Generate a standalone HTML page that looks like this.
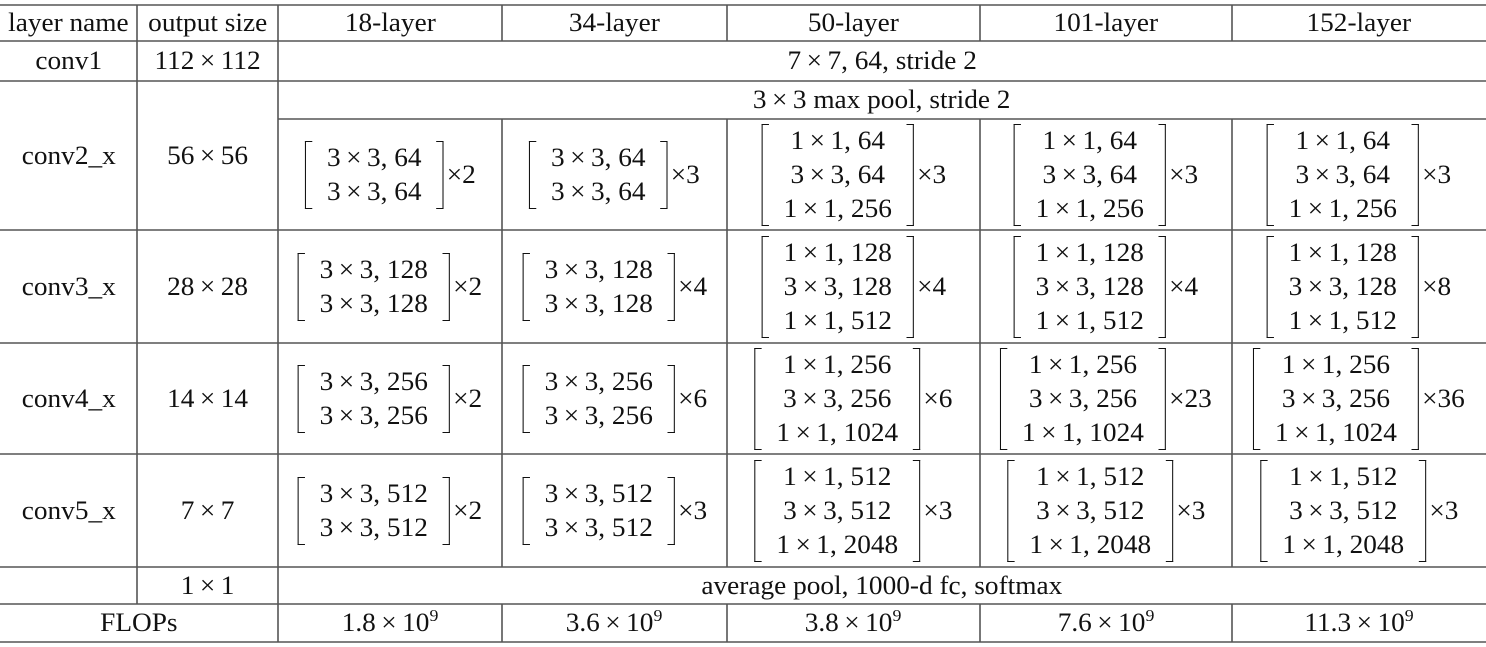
<!DOCTYPE html>
<html><head><meta charset="utf-8"><style>
body{margin:0;background:#fff;}
#c{position:relative;width:1486px;height:647px;overflow:hidden;font-family:"Liberation Serif",serif;font-size:26px;color:#111;}
.cell{position:absolute;display:flex;align-items:center;justify-content:center;}
.in{transform:scaleX(1.05);display:flex;align-items:center;white-space:nowrap;}
.br{display:flex;align-items:center;}
.bl{width:6px;border:1.5px solid #111;border-right:none;align-self:stretch;}
.brr{width:6px;border:1.5px solid #111;border-left:none;align-self:stretch;}
.tx{text-align:center;line-height:34px;padding:0px 14px;}
.x{margin-left:3px;}
sup{font-size:17px;vertical-align:10px;line-height:0;}
svg{position:absolute;left:0;top:0;}
</style></head><body><div id="c">
<svg width="1486" height="647">
<g stroke="#555" stroke-width="1.6">
<line x1="0" y1="5" x2="1486" y2="5"/>
<line x1="0" y1="41" x2="1486" y2="41"/>
<line x1="0" y1="81" x2="1486" y2="81"/>
<line x1="278" y1="119" x2="1486" y2="119"/>
<line x1="0" y1="230" x2="1486" y2="230"/>
<line x1="0" y1="343" x2="1486" y2="343"/>
<line x1="0" y1="454" x2="1486" y2="454"/>
<line x1="0" y1="567" x2="1486" y2="567"/>
<line x1="0" y1="604" x2="1486" y2="604"/>
<line x1="0" y1="642" x2="1486" y2="642"/>
<line x1="137" y1="5" x2="137" y2="604"/>
<line x1="278" y1="5" x2="278" y2="642"/>
<line x1="502" y1="5" x2="502" y2="41"/><line x1="502" y1="119" x2="502" y2="567"/><line x1="502" y1="604" x2="502" y2="642"/>
<line x1="727" y1="5" x2="727" y2="41"/><line x1="727" y1="119" x2="727" y2="567"/><line x1="727" y1="604" x2="727" y2="642"/>
<line x1="980" y1="5" x2="980" y2="41"/><line x1="980" y1="119" x2="980" y2="567"/><line x1="980" y1="604" x2="980" y2="642"/>
<line x1="1232" y1="5" x2="1232" y2="41"/><line x1="1232" y1="119" x2="1232" y2="567"/><line x1="1232" y1="604" x2="1232" y2="642"/>
</g></svg>

<div class="cell" style="left:0;top:5px;width:137px;height:36px"><div class="in">layer name</div></div>
<div class="cell" style="left:137px;top:5px;width:141px;height:36px"><div class="in">output size</div></div>
<div class="cell" style="left:278px;top:5px;width:224px;height:36px"><div class="in">18-layer</div></div>
<div class="cell" style="left:502px;top:5px;width:225px;height:36px"><div class="in">34-layer</div></div>
<div class="cell" style="left:727px;top:5px;width:253px;height:36px"><div class="in">50-layer</div></div>
<div class="cell" style="left:980px;top:5px;width:252px;height:36px"><div class="in">101-layer</div></div>
<div class="cell" style="left:1232px;top:5px;width:254px;height:36px"><div class="in">152-layer</div></div>

<div class="cell" style="left:0;top:41px;width:137px;height:40px"><div class="in">conv1</div></div>
<div class="cell" style="left:137px;top:41px;width:141px;height:40px"><div class="in">112&#8201;×&#8201;112</div></div>
<div class="cell" style="left:278px;top:41px;width:1208px;height:40px"><div class="in">7&#8201;×&#8201;7, 64, stride 2</div></div>

<div class="cell" style="left:0;top:81px;width:137px;height:149px"><div class="in">conv2_x</div></div>
<div class="cell" style="left:137px;top:81px;width:141px;height:149px"><div class="in">56&#8201;×&#8201;56</div></div>
<div class="cell" style="left:278px;top:81px;width:1208px;height:38px"><div class="in">3&#8201;×&#8201;3 max pool, stride 2</div></div>

<div class="cell" style="left:278px;top:119px;width:224px;height:111px"><div class="in"><div class="br"><div class="bl"></div><div class="tx">3&#8201;×&#8201;3, 64<br>3&#8201;×&#8201;3, 64</div><div class="brr"></div></div><span class="x">×2</span></div></div>
<div class="cell" style="left:502px;top:119px;width:225px;height:111px"><div class="in"><div class="br"><div class="bl"></div><div class="tx">3&#8201;×&#8201;3, 64<br>3&#8201;×&#8201;3, 64</div><div class="brr"></div></div><span class="x">×3</span></div></div>
<div class="cell" style="left:727px;top:119px;width:253px;height:111px"><div class="in"><div class="br"><div class="bl"></div><div class="tx">1&#8201;×&#8201;1, 64<br>3&#8201;×&#8201;3, 64<br>1&#8201;×&#8201;1, 256</div><div class="brr"></div></div><span class="x">×3</span></div></div>
<div class="cell" style="left:980px;top:119px;width:252px;height:111px"><div class="in"><div class="br"><div class="bl"></div><div class="tx">1&#8201;×&#8201;1, 64<br>3&#8201;×&#8201;3, 64<br>1&#8201;×&#8201;1, 256</div><div class="brr"></div></div><span class="x">×3</span></div></div>
<div class="cell" style="left:1232px;top:119px;width:254px;height:111px"><div class="in"><div class="br"><div class="bl"></div><div class="tx">1&#8201;×&#8201;1, 64<br>3&#8201;×&#8201;3, 64<br>1&#8201;×&#8201;1, 256</div><div class="brr"></div></div><span class="x">×3</span></div></div>

<div class="cell" style="left:0;top:230px;width:137px;height:113px"><div class="in">conv3_x</div></div>
<div class="cell" style="left:137px;top:230px;width:141px;height:113px"><div class="in">28&#8201;×&#8201;28</div></div>
<div class="cell" style="left:278px;top:230px;width:224px;height:113px"><div class="in"><div class="br"><div class="bl"></div><div class="tx">3&#8201;×&#8201;3, 128<br>3&#8201;×&#8201;3, 128</div><div class="brr"></div></div><span class="x">×2</span></div></div>
<div class="cell" style="left:502px;top:230px;width:225px;height:113px"><div class="in"><div class="br"><div class="bl"></div><div class="tx">3&#8201;×&#8201;3, 128<br>3&#8201;×&#8201;3, 128</div><div class="brr"></div></div><span class="x">×4</span></div></div>
<div class="cell" style="left:727px;top:230px;width:253px;height:113px"><div class="in"><div class="br"><div class="bl"></div><div class="tx">1&#8201;×&#8201;1, 128<br>3&#8201;×&#8201;3, 128<br>1&#8201;×&#8201;1, 512</div><div class="brr"></div></div><span class="x">×4</span></div></div>
<div class="cell" style="left:980px;top:230px;width:252px;height:113px"><div class="in"><div class="br"><div class="bl"></div><div class="tx">1&#8201;×&#8201;1, 128<br>3&#8201;×&#8201;3, 128<br>1&#8201;×&#8201;1, 512</div><div class="brr"></div></div><span class="x">×4</span></div></div>
<div class="cell" style="left:1232px;top:230px;width:254px;height:113px"><div class="in"><div class="br"><div class="bl"></div><div class="tx">1&#8201;×&#8201;1, 128<br>3&#8201;×&#8201;3, 128<br>1&#8201;×&#8201;1, 512</div><div class="brr"></div></div><span class="x">×8</span></div></div>

<div class="cell" style="left:0;top:343px;width:137px;height:111px"><div class="in">conv4_x</div></div>
<div class="cell" style="left:137px;top:343px;width:141px;height:111px"><div class="in">14&#8201;×&#8201;14</div></div>
<div class="cell" style="left:278px;top:343px;width:224px;height:111px"><div class="in"><div class="br"><div class="bl"></div><div class="tx">3&#8201;×&#8201;3, 256<br>3&#8201;×&#8201;3, 256</div><div class="brr"></div></div><span class="x">×2</span></div></div>
<div class="cell" style="left:502px;top:343px;width:225px;height:111px"><div class="in"><div class="br"><div class="bl"></div><div class="tx">3&#8201;×&#8201;3, 256<br>3&#8201;×&#8201;3, 256</div><div class="brr"></div></div><span class="x">×6</span></div></div>
<div class="cell" style="left:727px;top:343px;width:253px;height:111px"><div class="in"><div class="br"><div class="bl"></div><div class="tx">1&#8201;×&#8201;1, 256<br>3&#8201;×&#8201;3, 256<br>1&#8201;×&#8201;1, 1024</div><div class="brr"></div></div><span class="x">×6</span></div></div>
<div class="cell" style="left:980px;top:343px;width:252px;height:111px"><div class="in"><div class="br"><div class="bl"></div><div class="tx">1&#8201;×&#8201;1, 256<br>3&#8201;×&#8201;3, 256<br>1&#8201;×&#8201;1, 1024</div><div class="brr"></div></div><span class="x">×23</span></div></div>
<div class="cell" style="left:1232px;top:343px;width:254px;height:111px"><div class="in"><div class="br"><div class="bl"></div><div class="tx">1&#8201;×&#8201;1, 256<br>3&#8201;×&#8201;3, 256<br>1&#8201;×&#8201;1, 1024</div><div class="brr"></div></div><span class="x">×36</span></div></div>

<div class="cell" style="left:0;top:454px;width:137px;height:113px"><div class="in">conv5_x</div></div>
<div class="cell" style="left:137px;top:454px;width:141px;height:113px"><div class="in">7&#8201;×&#8201;7</div></div>
<div class="cell" style="left:278px;top:454px;width:224px;height:113px"><div class="in"><div class="br"><div class="bl"></div><div class="tx">3&#8201;×&#8201;3, 512<br>3&#8201;×&#8201;3, 512</div><div class="brr"></div></div><span class="x">×2</span></div></div>
<div class="cell" style="left:502px;top:454px;width:225px;height:113px"><div class="in"><div class="br"><div class="bl"></div><div class="tx">3&#8201;×&#8201;3, 512<br>3&#8201;×&#8201;3, 512</div><div class="brr"></div></div><span class="x">×3</span></div></div>
<div class="cell" style="left:727px;top:454px;width:253px;height:113px"><div class="in"><div class="br"><div class="bl"></div><div class="tx">1&#8201;×&#8201;1, 512<br>3&#8201;×&#8201;3, 512<br>1&#8201;×&#8201;1, 2048</div><div class="brr"></div></div><span class="x">×3</span></div></div>
<div class="cell" style="left:980px;top:454px;width:252px;height:113px"><div class="in"><div class="br"><div class="bl"></div><div class="tx">1&#8201;×&#8201;1, 512<br>3&#8201;×&#8201;3, 512<br>1&#8201;×&#8201;1, 2048</div><div class="brr"></div></div><span class="x">×3</span></div></div>
<div class="cell" style="left:1232px;top:454px;width:254px;height:113px"><div class="in"><div class="br"><div class="bl"></div><div class="tx">1&#8201;×&#8201;1, 512<br>3&#8201;×&#8201;3, 512<br>1&#8201;×&#8201;1, 2048</div><div class="brr"></div></div><span class="x">×3</span></div></div>

<div class="cell" style="left:137px;top:567px;width:141px;height:37px"><div class="in">1&#8201;×&#8201;1</div></div>
<div class="cell" style="left:278px;top:567px;width:1208px;height:37px"><div class="in">average pool, 1000-d fc, softmax</div></div>

<div class="cell" style="left:0;top:604px;width:278px;height:38px"><div class="in">FLOPs</div></div>
<div class="cell" style="left:278px;top:604px;width:224px;height:38px"><div class="in"><span>1.8&#8201;×&#8201;10<sup>9</sup></span></div></div>
<div class="cell" style="left:502px;top:604px;width:225px;height:38px"><div class="in"><span>3.6&#8201;×&#8201;10<sup>9</sup></span></div></div>
<div class="cell" style="left:727px;top:604px;width:253px;height:38px"><div class="in"><span>3.8&#8201;×&#8201;10<sup>9</sup></span></div></div>
<div class="cell" style="left:980px;top:604px;width:252px;height:38px"><div class="in"><span>7.6&#8201;×&#8201;10<sup>9</sup></span></div></div>
<div class="cell" style="left:1232px;top:604px;width:254px;height:38px"><div class="in"><span>11.3&#8201;×&#8201;10<sup>9</sup></span></div></div>
</div></body></html>
